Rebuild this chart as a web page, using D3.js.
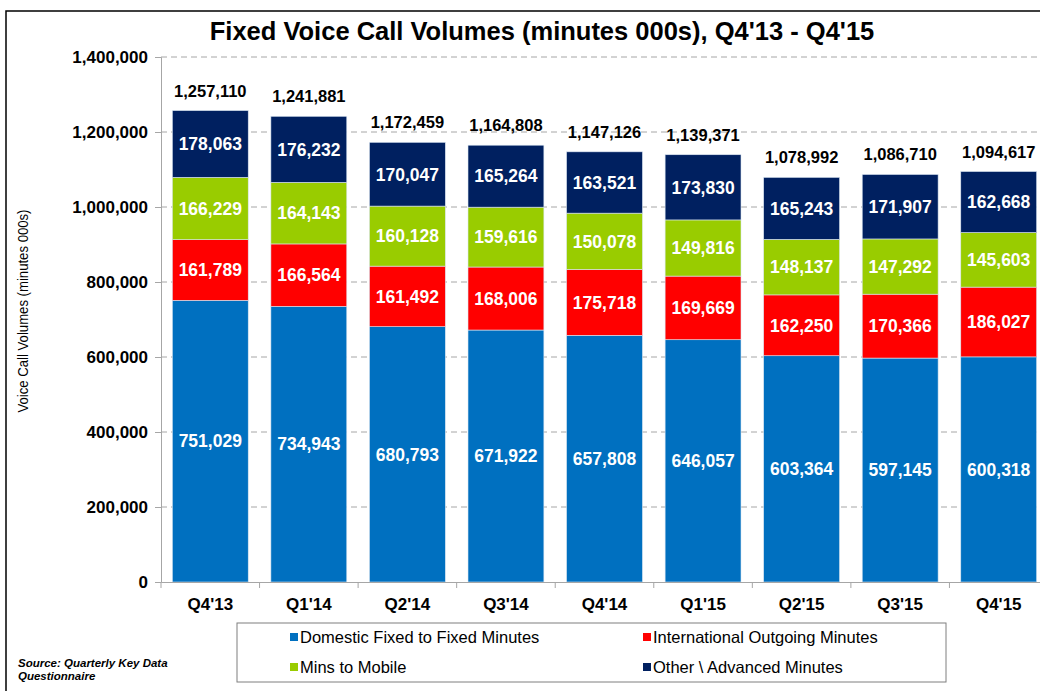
<!DOCTYPE html>
<meta charset="utf-8">
<script src="https://d3js.org/d3.v7.min.js"></script>
<style>
  body { margin: 0; background: #fff; }
  text { font-family: "Liberation Sans", Arial, sans-serif; }
</style>
<svg id="chart" width="1040" height="691"></svg>
<script>

// Data
var quarters = ["Q4'13", "Q1'14", "Q2'14", "Q3'14", "Q4'14", "Q1'15", "Q2'15", "Q3'15", "Q4'15"];
var domestic = [751029, 734943, 680793, 671922, 657808, 646057, 603364, 597145, 600318];
var international = [161789, 166564, 161492, 168006, 175718, 169669, 162250, 170366, 186027];
var mobile = [166229, 164143, 160128, 159616, 150078, 149816, 148137, 147292, 145603];
var other = [178063, 176232, 170047, 165264, 163521, 173830, 165243, 171907, 162668];
var totals = [1257110, 1241881, 1172459, 1164808, 1147126, 1139371, 1078992, 1086710, 1094617];
var seriesNames = ["Domestic Fixed to Fixed Minutes", "International Outgoing Minutes", "Mins to Mobile", "Other \\ Advanced Minutes"];
var yTicks = [0, 200000, 400000, 600000, 800000, 1000000, 1200000, 1400000];

var colors = ["#0070c0", "#ff0000", "#99cc00", "#002060"];

var rows = quarters.map(function(q, i) {
  return { q: q, s0: domestic[i], s1: international[i], s2: mobile[i], s3: other[i], total: totals[i] };
});

var svg = d3.select("#chart");
var fmt = d3.format(",");

// outer frame
svg.append("rect")
  .attr("x", 6).attr("y", 11).attr("width", 1060).attr("height", 700)
  .attr("fill", "none").attr("stroke", "#000").attr("stroke-width", 1.5);

var plotLeft = 161, plotRight = 1048, plotTop = 57, plotBottom = 582;

var x = d3.scaleBand().domain(quarters).range([plotLeft, plotRight]).paddingInner(0.23).paddingOuter(0.115);
var y = d3.scaleLinear().domain([0, 1400000]).range([plotBottom, plotTop]);

// gridlines
svg.append("g")
  .selectAll("line")
  .data(yTicks.filter(function(d) { return d > 0; }))
  .enter().append("line")
    .attr("x1", plotLeft).attr("x2", plotRight)
    .attr("y1", function(d) { return y(d); }).attr("y2", function(d) { return y(d); })
    .attr("stroke", "#a6a6a6").attr("stroke-width", 1).attr("stroke-dasharray", "6,4");

// y axis
var yAxis = svg.append("g")
  .attr("transform", "translate(" + plotLeft + ",0)")
  .call(d3.axisLeft(y).tickValues(yTicks).tickFormat(fmt).tickSize(6).tickPadding(7));
yAxis.select(".domain").attr("stroke", "#a6a6a6");
yAxis.selectAll(".tick line").attr("stroke", "#a6a6a6");
yAxis.selectAll("text").attr("font-size", 17).attr("font-weight", "bold").attr("fill", "#000")
  .style("font-family", "'Liberation Sans', Arial, sans-serif");

// stacked bars
var stack = d3.stack().keys(["s0", "s1", "s2", "s3"]);
var layers = stack(rows);

var groups = svg.append("g").selectAll("g")
  .data(layers)
  .enter().append("g")
    .attr("fill", function(d, i) { return colors[i]; });

groups.selectAll("rect")
  .data(function(d) { return d; })
  .enter().append("rect")
    .attr("x", function(d) { return x(d.data.q); })
    .attr("width", x.bandwidth())
    .attr("y", function(d) { return y(d[1]); })
    .attr("height", function(d) { return y(d[0]) - y(d[1]); })
    .attr("stroke", "#dbe6f2").attr("stroke-width", 0.6);

groups.selectAll("text")
  .data(function(d) { return d; })
  .enter().append("text")
    .attr("x", function(d) { return x(d.data.q) + x.bandwidth() / 2; })
    .attr("y", function(d) { return (y(d[0]) + y(d[1])) / 2; })
    .attr("dy", "0.36em")
    .attr("text-anchor", "middle")
    .attr("fill", "#fff")
    .attr("font-size", 17.5).attr("font-weight", "bold")
    .text(function(d) { return fmt(d[1] - d[0]); });

// x axis
var xAxis = svg.append("g")
  .attr("transform", "translate(0," + plotBottom + ")")
  .call(d3.axisBottom(x).tickSize(0).tickPadding(16));
xAxis.select(".domain").attr("stroke", "#a6a6a6");
xAxis.selectAll("text").attr("font-size", 17).attr("font-weight", "bold").attr("fill", "#000")
  .style("font-family", "'Liberation Sans', Arial, sans-serif");
// tick marks between categories
var step = x.step();
svg.append("g").selectAll("line")
  .data(d3.range(quarters.length + 1))
  .enter().append("line")
    .attr("x1", function(i) { return plotLeft + i * step; })
    .attr("x2", function(i) { return plotLeft + i * step; })
    .attr("y1", plotBottom).attr("y2", plotBottom + 6)
    .attr("stroke", "#a6a6a6");

// totals
svg.append("g").selectAll("text")
  .data(rows)
  .enter().append("text")
    .attr("x", function(d) { return x(d.q) + x.bandwidth() / 2; })
    .attr("y", function(d) { return y(d.total) - 14; })
    .attr("text-anchor", "middle")
    .attr("font-size", 16.5).attr("font-weight", "bold").attr("fill", "#000")
    .text(function(d) { return fmt(d.total); });

// title
svg.append("text")
  .attr("x", 542).attr("y", 40)
  .attr("text-anchor", "middle")
  .attr("font-size", 25.5).attr("font-weight", "bold")
  .text("Fixed Voice Call Volumes (minutes 000s), Q4'13 - Q4'15");

// y label
svg.append("text")
  .attr("transform", "translate(28,311) rotate(-90)")
  .attr("text-anchor", "middle")
  .attr("font-size", 15)
  .attr("textLength", 203).attr("lengthAdjust", "spacingAndGlyphs")
  .text("Voice Call Volumes (minutes 000s)");

// legend
var legend = svg.append("g");
legend.append("rect")
  .attr("x", 237).attr("y", 623).attr("width", 709).attr("height", 59)
  .attr("fill", "#fff").attr("stroke", "#7f7f7f").attr("stroke-width", 1);
var legendPos = [[290, 637], [643, 637], [290, 667], [643, 667]];
seriesNames.forEach(function(name, k) {
  var p = legendPos[k];
  legend.append("rect")
    .attr("x", p[0]).attr("y", p[1] - 4).attr("width", 8).attr("height", 8)
    .attr("fill", colors[k]);
  legend.append("text")
    .attr("x", p[0] + 10).attr("y", p[1])
    .attr("dy", "0.36em")
    .attr("font-size", 16.5)
    .text(name);
});

// source note
var src = svg.append("text")
  .attr("x", 18).attr("y", 667)
  .attr("font-size", 11.5).attr("font-weight", "bold").attr("font-style", "italic");
src.append("tspan").attr("x", 18).text("Source:  Quarterly Key Data");
src.append("tspan").attr("x", 18).attr("dy", 13).text("Questionnaire");

</script>
